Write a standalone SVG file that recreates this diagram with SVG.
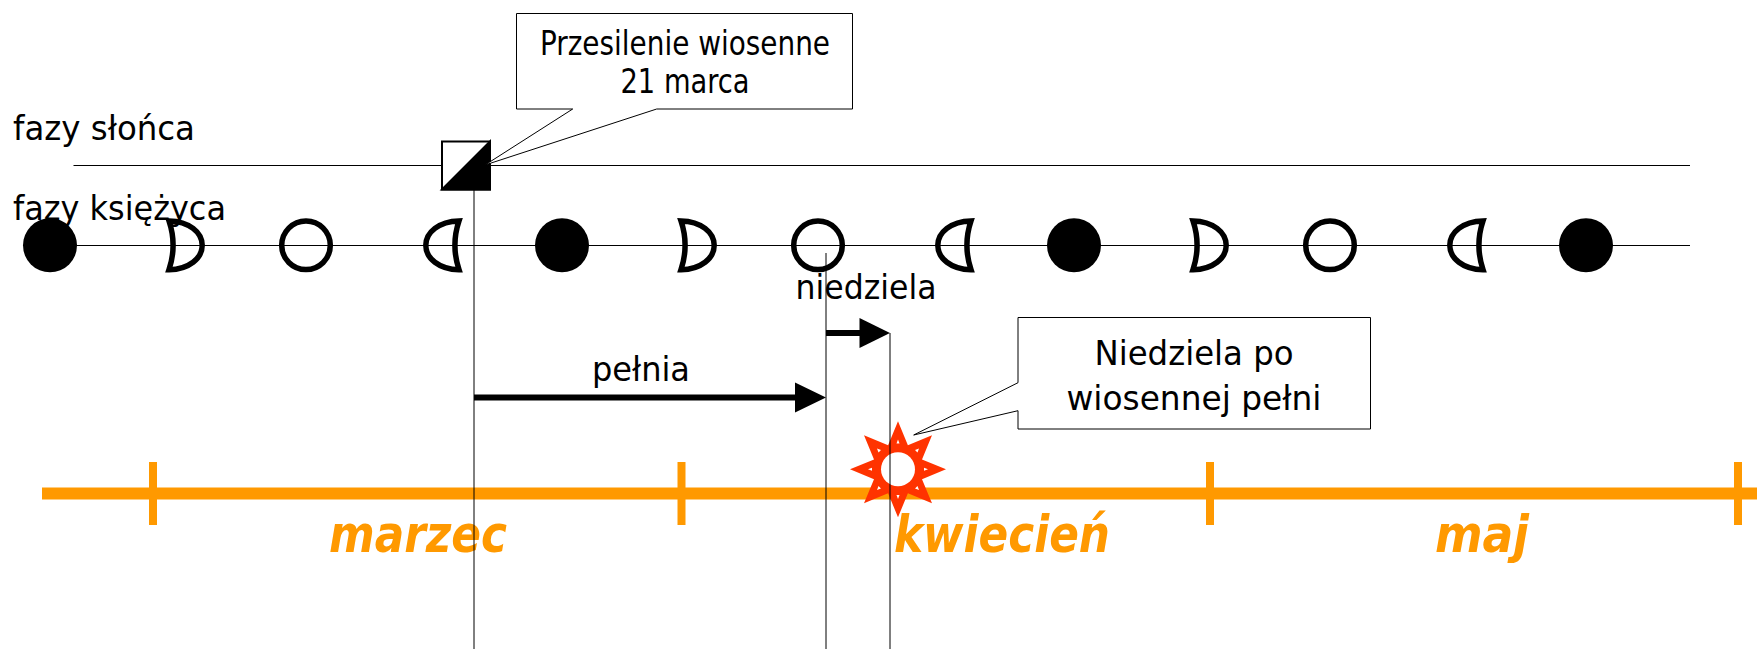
<svg xmlns="http://www.w3.org/2000/svg" width="1757" height="649" viewBox="0 0 1757 649">
<style>
text{font-family:"DejaVu Sans Condensed","DejaVu Sans",sans-serif;font-stretch:condensed;font-size:34.5px;fill:#000}
.c{text-anchor:middle}
.m{font-size:52px;font-weight:bold;font-style:italic;fill:#f90;text-anchor:middle}
.thin{stroke:#000;stroke-width:1;fill:none}
.moon{fill:none;stroke:#000;stroke-width:5.5}
.box{fill:#fff;stroke:#000;stroke-width:1}
.tick{stroke:#f90;stroke-width:8;fill:none}
.shaft{stroke:#000;stroke-width:6;fill:none}
</style>
<defs>
<circle id="new" r="27" fill="#000"/>
<circle id="full" r="24.3" class="moon"/>
<path id="waxing" class="moon" d="M-36,-24.4C-16,-24 -2.8,-13 -2.8,0C-2.8,13 -16,24 -36,24.4C-30.5,8 -30.5,-8 -36,-24.4Z"/>
<marker id="ah" markerUnits="userSpaceOnUse" markerWidth="31" markerHeight="30" refX="31" refY="15" orient="auto"><path d="M0,0L31,15L0,30Z" fill="#000"/></marker>
</defs>
<g id="label-sun"><text x="13" y="140" textLength="182" lengthAdjust="spacingAndGlyphs">fazy słońca</text></g>
<g id="label-moon"><text x="13" y="220" textLength="213" lengthAdjust="spacingAndGlyphs">fazy księżyca</text></g>
<g id="timeline">
<path d="M42,493.5H1757" stroke="#f90" stroke-width="12" fill="none"/>
<path class="tick" d="M153,462V525M681.5,462V525M1210,462V525M1738,462V525"/>
</g>
<g id="months">
<text class="m" x="418" y="552" textLength="178" lengthAdjust="spacingAndGlyphs">marzec</text>
<text class="m" x="1002" y="552" textLength="216" lengthAdjust="spacingAndGlyphs">kwiecień</text>
<text class="m" x="1482" y="552" textLength="94" lengthAdjust="spacingAndGlyphs">maj</text>
</g>
<g id="star">
<polygon fill="#f30" points="898,421.3 907.9,445.3 932,435.3 922,459.4 946,469.3 922,479.2 932,503.3 907.9,493.3 898,517.3 888.1,493.3 864,503.3 874,479.2 850,469.3 874,459.4 864,435.3 888.1,445.3"/>
<circle cx="898" cy="469.3" r="17" fill="#fff"/>
<path fill="#fff" d="M898,439.5l1.5,4h-3zM898,499l1.5,-4h-3zM868,469.3l4,-1.5v3zM928,469.3l-4,-1.5v3zM877,448.5l4,1.5l-2.5,2.5zM919,448.5l-4,1.5l2.5,2.5zM877,490l4,-1.5l-2.5,-2.5zM919,490l-4,-1.5l2.5,-2.5z"/>
</g>
<g id="connectors">
<path class="thin" d="M73.5,165.5H1690"/>
<path class="thin" d="M50,245.5H1690"/>
<path class="thin" d="M474,189V649M826,253V649M890,333V649"/>
<path class="shaft" d="M474,397.5H800"/>
<path d="M795,382.5L826,397.5L795,412.5Z" fill="#000"/>
<path class="shaft" d="M826,333H865"/>
<path d="M859.5,318L890,333L859.5,348Z" fill="#000"/>
</g>
<g id="moons">
<use href="#new" x="50" y="245.3"/>
<use href="#waxing" x="205" y="245.3"/>
<use href="#full" x="306" y="245.3"/>
<use href="#waxing" transform="translate(423,245.3) scale(-1,1)"/>
<use href="#new" x="562" y="245.3"/>
<use href="#waxing" x="717" y="245.3"/>
<use href="#full" x="818" y="245.3"/>
<use href="#waxing" transform="translate(935,245.3) scale(-1,1)"/>
<use href="#new" x="1074" y="245.3"/>
<use href="#waxing" x="1229" y="245.3"/>
<use href="#full" x="1330" y="245.3"/>
<use href="#waxing" transform="translate(1447,245.3) scale(-1,1)"/>
<use href="#new" x="1586" y="245.3"/>
</g>
<g id="equinox">
<rect x="442" y="141.5" width="48" height="48" fill="#fff" stroke="#000" stroke-width="2"/>
<path d="M442,189.5L490,141.5V189.5Z" fill="#000" stroke="#000" stroke-width="2"/>
</g>
<g id="callout-equinox">
<path class="box" d="M516.5,13.5H852.5V109H656.7L485,165L572.7,109H516.5Z"/>
<text class="c" x="685" y="55" textLength="290" lengthAdjust="spacingAndGlyphs">Przesilenie wiosenne</text>
<text class="c" x="685" y="92.7" textLength="129" lengthAdjust="spacingAndGlyphs">21 marca</text>
</g>
<g id="callout-sunday">
<path class="box" d="M1018,317.5H1370.5V429H1018V410.7L913.7,435L1018,382.7Z"/>
<text class="c" x="1194" y="365" textLength="199" lengthAdjust="spacingAndGlyphs">Niedziela po</text>
<text class="c" x="1194" y="410" textLength="255" lengthAdjust="spacingAndGlyphs">wiosennej pełni</text>
</g>
<g id="label-pelnia"><text class="c" x="641" y="381" textLength="98" lengthAdjust="spacingAndGlyphs">pełnia</text></g>
<g id="label-niedziela"><text class="c" x="866" y="299" textLength="141" lengthAdjust="spacingAndGlyphs">niedziela</text></g>
</svg>
